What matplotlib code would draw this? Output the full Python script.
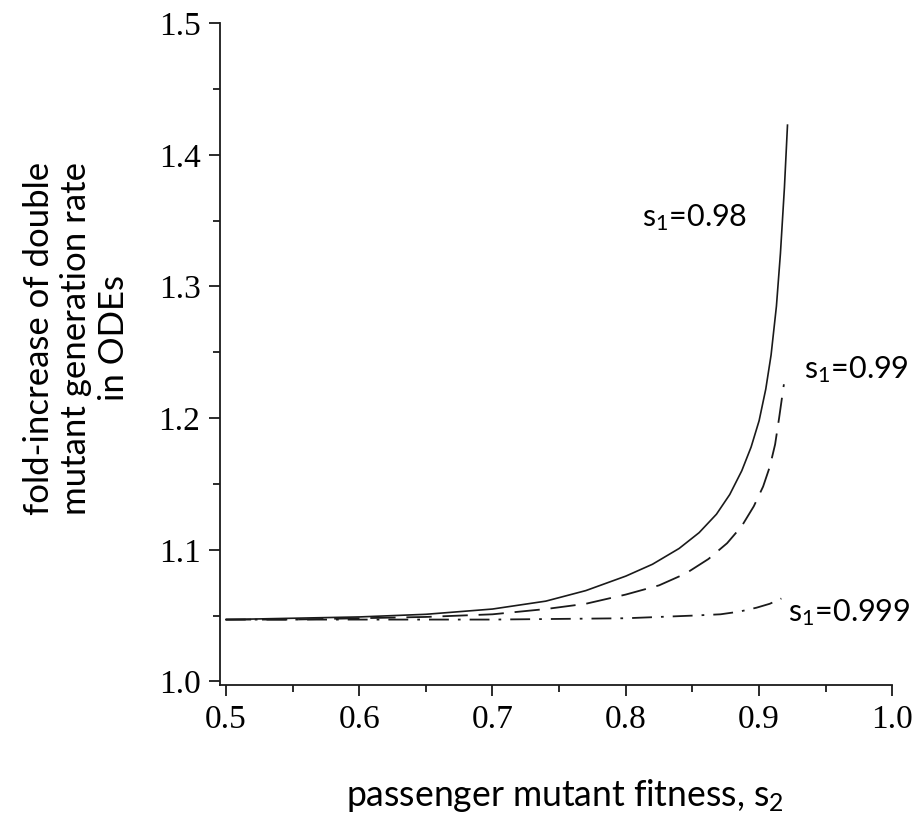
import matplotlib
matplotlib.use("Agg")
import matplotlib.pyplot as plt
from matplotlib.ticker import MultipleLocator

# values
s2_098 = [0.50, 0.55, 0.60, 0.65, 0.70, 0.74, 0.77, 0.80, 0.82, 0.84, 0.855, 0.868,
          0.878, 0.887, 0.894, 0.900, 0.905, 0.909, 0.913, 0.916, 0.919, 0.9213]
fold_098 = [1.047, 1.048, 1.049, 1.051, 1.055, 1.061, 1.069, 1.080, 1.089, 1.101, 1.113, 1.127,
            1.142, 1.160, 1.178, 1.198, 1.222, 1.248, 1.285, 1.325, 1.375, 1.4225]

s2_099 = [0.50, 0.55, 0.60, 0.65, 0.70, 0.74, 0.77, 0.80, 0.825, 0.845, 0.862, 0.876,
          0.887, 0.896, 0.903, 0.908, 0.912, 0.915, 0.9186]
fold_099 = [1.047, 1.047, 1.048, 1.049, 1.051, 1.055, 1.059, 1.066, 1.073, 1.082, 1.093, 1.105,
            1.118, 1.133, 1.148, 1.163, 1.180, 1.200, 1.2257]

s2_0999 = [0.50, 0.60, 0.70, 0.80, 0.825, 0.85, 0.871, 0.885, 0.898, 0.908, 0.9167]
fold_0999 = [1.047, 1.047, 1.047, 1.048, 1.049, 1.050, 1.051, 1.053, 1.056, 1.059, 1.063]

labels = ["$\\mathregular{s_1}$=0.98", "$\\mathregular{s_1}$=0.99", "$\\mathregular{s_1}$=0.999"]
xticks = [0.5, 0.6, 0.7, 0.8, 0.9, 1.0]
yticks = [1.0, 1.1, 1.2, 1.3, 1.4, 1.5]

plt.rcParams['font.family'] = ['Lato', 'DejaVu Sans']
plt.rcParams['mathtext.fontset'] = 'custom'
plt.rcParams['mathtext.rm'] = 'Lato'

fig = plt.figure(figsize=(9.2, 8.25), dpi=100)
ax = fig.add_axes([0.239, 0.170, 0.731, 0.802])

lc = '#1a1a1a'
ax.plot(s2_098, fold_098, color=lc, lw=1.2, linestyle='-')
ax.plot(s2_099, fold_099, color=lc, lw=1.3, linestyle=(0, (14, 6)))
ax.plot(s2_0999, fold_0999, color=lc, lw=1.3, linestyle=(0, (11, 5, 1.5, 5)))

ax.set_xlim(0.4955, 1.0)
ax.set_ylim(0.9975, 1.5)
ax.set_xticks(xticks)
ax.set_yticks(yticks)
ax.xaxis.set_minor_locator(MultipleLocator(0.05))
ax.yaxis.set_minor_locator(MultipleLocator(0.05))
ax.tick_params(which='major', direction='out', length=8, width=1.3, pad=6, colors=lc)
ax.tick_params(which='minor', direction='out', length=5, width=1.3, colors=lc)
for lab in ax.get_xticklabels() + ax.get_yticklabels():
    lab.set_fontfamily('Liberation Serif')
    lab.set_fontsize(24)
    lab.set_color('black')

for side in ['top', 'right']:
    ax.spines[side].set_visible(False)
for side in ['left', 'bottom']:
    ax.spines[side].set_linewidth(1.3)
    ax.spines[side].set_color(lc)

# curve labels
ax.text(0.8125, 1.352, labels[0], fontsize=22, ha='left', va='center')
ax.text(0.934, 1.237, labels[1], fontsize=22, ha='left', va='center')
ax.text(0.922, 1.052, labels[2], fontsize=22, ha='left', va='center')

fig.text(0.6145, 0.036, "passenger mutant fitness, $\\mathregular{s_2}$", fontsize=25.6,
         ha='center', va='center')
fig.text(0.083, 0.59, "fold-increase of double\nmutant generation rate\nin ODEs", fontsize=25,
         ha='center', va='center', rotation=90, linespacing=1.2)

fig.savefig("out.png", dpi=100)
